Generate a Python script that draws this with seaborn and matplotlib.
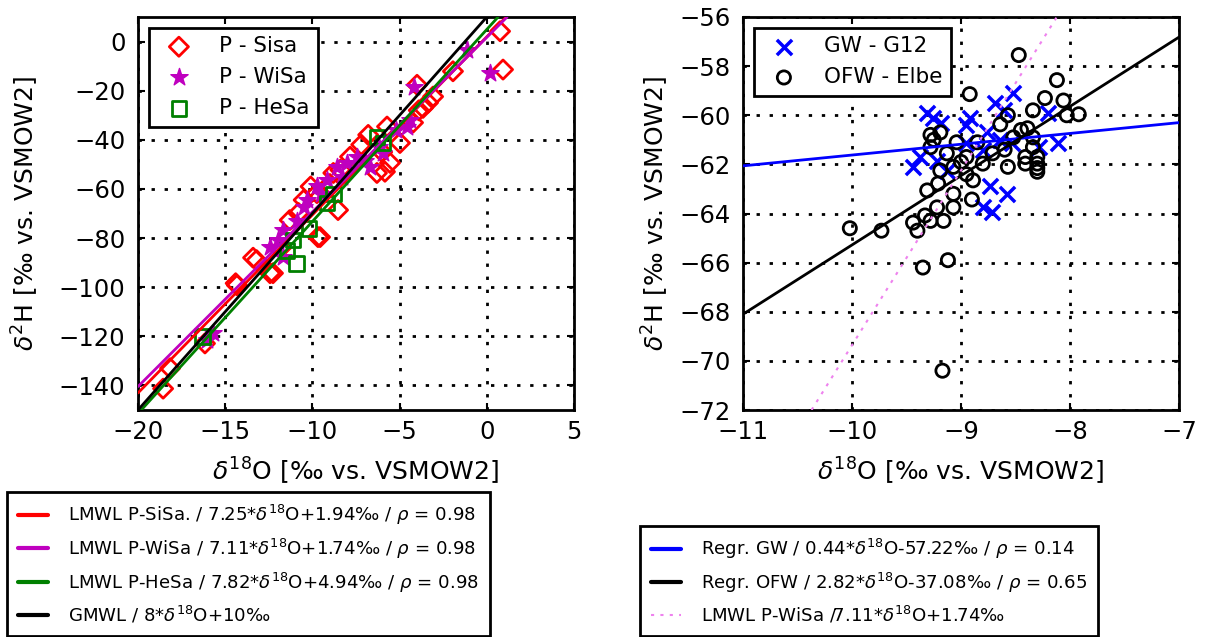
import numpy as np
import pandas as pd
import matplotlib
matplotlib.use("Agg")
import matplotlib.pyplot as plt
import seaborn as sns

# ---------------- data: left panel (precipitation) ----------------
sisa_o = [0.76, 0.93, -1.94, -4.0, -3.08, -3.37, -3.66, -4.23, -4.98, -5.72, -6.8,
          -5.55, -6.3, -7.84, -8.4, -8.8, -8.53, -9.68, -10.5, -10.8, -9.74, -10.1,
          -11.3, -12.43, -13.2, -14.33, -16.16, -18.16, -18.56, -5.84, -9.56, -13.4,
          -12.26, -14.4, -7.2, -6.0, -3.9, -9.0, -11.8]
sisa_h = [4.2, -11.4, -12.1, -17.6, -22.4, -24.9, -27.0, -33.0, -41.3, -34.6, -38.0,
          -49.4, -53.5, -46.9, -52.2, -53.5, -68.6, -79.6, -64.5, -69.8, -61.7, -59.0,
          -72.7, -94.3, -89.0, -99.2, -122.9, -133.0, -141.3, -53.0, -79.6, -88.0,
          -94.3, -98.4, -42.0, -45.0, -28.0, -58.0, -84.0]

wisa_o = [0.18, -1.13, -4.2, -4.4, -4.58, -5.95, -6.7, -7.44, -8.0, -8.6, -9.16,
          -9.74, -10.3, -10.5, -11.7, -12.0, -12.43, -11.7, -15.7, -16.04, -7.0,
          -8.3, -9.5, -10.9, -5.2, -6.2]
wisa_h = [-12.7, -3.3, -18.4, -31.8, -34.6, -45.3, -51.0, -46.9, -49.5, -51.0, -56.3,
          -59.0, -64.5, -67.3, -76.7, -80.8, -83.6, -87.8, -118.8, -121.6, -48.5,
          -55.0, -62.0, -73.0, -36.0, -43.0]

hesa_o = [-10.9, -6.3, -5.95, -9.16, -11.1, -11.45, -16.3, -8.8, -10.2]
hesa_h = [-90.4, -38.8, -41.3, -65.8, -80.8, -85.0, -120.0, -62.0, -76.0]

# regression lines left panel: (slope, intercept)
lmwl_sisa = (7.25, 1.94)
lmwl_wisa = (7.11, 1.74)
lmwl_hesa = (7.82, 4.94)
gmwl = (8.0, 10.0)

# ---------------- data: right panel (groundwater / surface water) ----------------
ofw_o = [-8.47, -8.12, -8.92, -8.23, -8.06, -8.34, -8.03, -7.92, -8.57, -8.64,
         -9.28, -9.19, -9.04, -8.85, -8.52, -8.39, -8.34, -9.28, -9.13, -8.95,
         -8.80, -8.71, -8.57, -8.41, -8.41, -8.30, -8.30, -8.30, -8.30, -8.34,
         -9.19, -9.07, -8.95, -8.89, -9.31, -9.21, -9.07, -8.90, -9.07, -9.22,
         -9.33, -9.28, -9.16, -9.44, -9.40, -10.02, -9.73, -9.35, -9.12, -9.17,
         -9.25, -8.60, -8.45, -9.00]
ofw_h = [-57.55, -58.57, -59.14, -59.3, -59.4, -59.8, -60.0, -59.96, -60.0, -60.37,
         -60.8, -60.7, -61.1, -61.1, -60.9, -60.53, -60.9, -61.3, -61.55, -61.7,
         -61.97, -61.55, -62.1, -61.7, -61.97, -61.7, -61.97, -62.15, -62.3, -61.3,
         -62.25, -62.1, -62.4, -62.65, -63.06, -62.78, -63.2, -63.43, -63.75, -63.75,
         -64.08, -64.3, -64.3, -64.37, -64.7, -64.6, -64.7, -66.2, -65.9, -70.4,
         -61.0, -61.4, -60.6, -61.9]

gw_o = [-9.31, -9.26, -9.18, -8.92, -8.95, -8.69, -8.52, -8.61, -8.20, -8.11,
        -9.44, -9.38, -9.22, -8.73, -8.58, -8.80, -8.72, -8.76, -8.64, -8.53,
        -8.28, -9.13, -8.80, -8.95]
gw_h = [-59.9, -60.1, -60.3, -60.1, -60.4, -59.5, -59.1, -59.8, -59.9, -61.15,
        -62.1, -61.7, -61.85, -62.9, -63.2, -63.75, -63.95, -60.7, -61.0, -61.15,
        -61.3, -62.25, -61.4, -61.15]

regr_gw = (0.44, -57.22)
regr_ofw = (2.82, -37.08)

xlabel = r"$\delta^{18}$O [‰ vs. VSMOW2]"
ylabel = r"$\delta^{2}$H [‰ vs. VSMOW2]"

# ---------------- style ----------------
sns.set_style("ticks")
plt.rcParams.update({
    "font.family": ["DejaVu Sans"],
    "mathtext.fontset": "dejavusans",
    "text.color": "black",
    "axes.labelcolor": "black",
    "axes.edgecolor": "black",
    "xtick.color": "black",
    "ytick.color": "black",
    "axes.linewidth": 2.0,
    "xtick.direction": "in",
    "ytick.direction": "in",
    "xtick.top": True,
    "ytick.right": True,
    "xtick.major.size": 5,
    "ytick.major.size": 5,
    "xtick.major.width": 1.5,
    "ytick.major.width": 1.5,
    "xtick.major.pad": 7,
    "ytick.major.pad": 9,
    "xtick.labelsize": 17.5,
    "ytick.labelsize": 17.5,
    "axes.labelsize": 18,
    "legend.edgecolor": "black",
    "legend.fancybox": False,
    "legend.framealpha": 1,
    "axes.unicode_minus": True,
})

fig = plt.figure(figsize=(12.08, 6.37), dpi=100)
W, H = 1208, 637
ax1 = fig.add_axes([138 / W, 1 - 410 / H, 436 / W, 393 / H])
ax2 = fig.add_axes([743 / W, 1 - 410 / H, 436 / W, 393 / H])

grid_kw = dict(color="black", linestyle=(0, (1.2, 3.5)), linewidth=2.0)

# ---------- left panel ----------
sns.scatterplot(x=sisa_o, y=sisa_h, ax=ax1, marker="D", s=95, facecolor="none",
                edgecolor="#ff0000", linewidth=2.0, label="P - Sisa", zorder=3)
sns.scatterplot(x=wisa_o, y=wisa_h, ax=ax1, marker="*", s=170, color="#bf00bf",
                edgecolor="#bf00bf", linewidth=1.0, label="P - WiSa", zorder=3)
sns.scatterplot(x=hesa_o, y=hesa_h, ax=ax1, marker="s", s=110, facecolor="none",
                edgecolor="#008000", linewidth=2.0, label="P - HeSa", zorder=3)

line_handles = []
for (m, b), col, lab in [
    (lmwl_sisa, "#ff0000", r"LMWL P-SiSa. / 7.25*$\delta^{18}$O+1.94‰ / $\rho$ = 0.98"),
    (lmwl_wisa, "#bf00bf", r"LMWL P-WiSa / 7.11*$\delta^{18}$O+1.74‰ / $\rho$ = 0.98"),
    (lmwl_hesa, "#008000", r"LMWL P-HeSa / 7.82*$\delta^{18}$O+4.94‰ / $\rho$ = 0.98"),
    (gmwl, "black", r"GMWL / 8*$\delta^{18}$O+10‰"),
]:
    h = ax1.axline((0, b), slope=m, color=col, linewidth=2.0, label=lab, zorder=4)
    line_handles.append(h)

ax1.set_xlim(-20, 5)
ax1.set_ylim(-150, 10)
ax1.set_xticks(np.arange(-20, 6, 5))
ax1.set_yticks(np.arange(-140, 1, 20))
ax1.grid(True, **grid_kw)
ax1.set_axisbelow(True)
ax1.set_xlabel(xlabel, labelpad=9)
ax1.set_ylabel(ylabel, labelpad=13)

sc_handles, sc_labels = ax1.get_legend_handles_labels()
ax1.legend(sc_handles[:3], sc_labels[:3], loc="upper left", fontsize=15.5,
           scatterpoints=1, handletextpad=0.85, frameon=True).get_frame().set_linewidth(2.0)

leg1 = fig.legend(handles=line_handles, loc="upper left",
                  bbox_to_anchor=(7 / W, 1 - 492 / H), bbox_transform=fig.transFigure,
                  borderaxespad=0, fontsize=13.1, handlelength=1.65, handletextpad=1.1,
                  borderpad=0.6, labelspacing=0.53)
leg1.get_frame().set_linewidth(2.0)
for l in leg1.get_lines():
    l.set_linewidth(3)

# ---------- right panel ----------
sns.scatterplot(x=gw_o, y=gw_h, ax=ax2, marker="x", s=120, color="#0000ff",
                linewidth=2.5, label="GW - G12", zorder=3)
sns.scatterplot(x=ofw_o, y=ofw_h, ax=ax2, marker="o", s=90, facecolor="none",
                edgecolor="black", linewidth=2.0, label="OFW - Elbe", zorder=3)

r_handles = []
for (m, b), col, ls, lw, lab in [
    (regr_gw, "#0000ff", "-", 2.0, r"Regr. GW / 0.44*$\delta^{18}$O-57.22‰ / $\rho$ = 0.14"),
    (regr_ofw, "black", "-", 2.0, r"Regr. OFW / 2.82*$\delta^{18}$O-37.08‰ / $\rho$ = 0.65"),
    (lmwl_wisa, "violet", (0, (1.5, 3)), 1.5, r"LMWL P-WiSa /7.11*$\delta^{18}$O+1.74‰"),
]:
    h = ax2.axline((0, b), slope=m, color=col, linestyle=ls, linewidth=lw, label=lab, zorder=4)
    r_handles.append(h)

ax2.set_xlim(-11, -7)
ax2.set_ylim(-72, -56)
ax2.set_xticks(np.arange(-11, -6.5, 1))
ax2.set_yticks(np.arange(-72, -55, 2))
ax2.grid(True, **grid_kw)
ax2.set_axisbelow(True)
ax2.set_xlabel(xlabel, labelpad=9)
ax2.set_ylabel(ylabel, labelpad=6)

sc2_h, sc2_l = ax2.get_legend_handles_labels()
ax2.legend(sc2_h[:2], sc2_l[:2], loc="upper left", fontsize=15.5,
           scatterpoints=1, handletextpad=0.85).get_frame().set_linewidth(2.0)

leg2 = fig.legend(handles=r_handles, loc="upper left",
                  bbox_to_anchor=(640 / W, 1 - 526 / H), bbox_transform=fig.transFigure,
                  borderaxespad=0, fontsize=13.1, handlelength=1.65, handletextpad=1.1,
                  borderpad=0.6, labelspacing=0.53)
leg2.get_frame().set_linewidth(2.0)
for l, lw in zip(leg2.get_lines(), [3, 3, 1.5]):
    l.set_linewidth(lw)

fig.savefig("out.png", dpi=100)
